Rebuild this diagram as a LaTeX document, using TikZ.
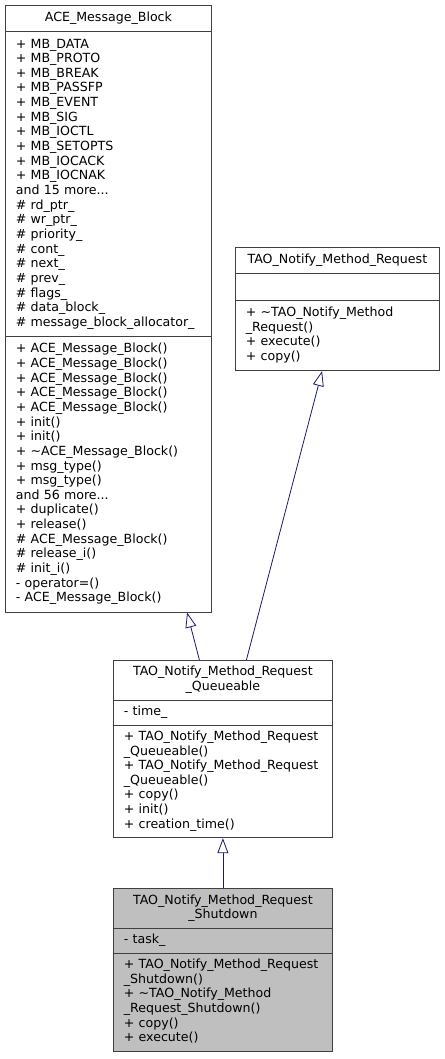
\documentclass[tikz,border=0pt]{standalone}
\usepackage{fontspec}
\setmainfont{DejaVu Sans}
\usepackage{tikz}
\usetikzlibrary{positioning}
\usetikzlibrary{shapes,arrows.meta}
\definecolor{umlblue}{RGB}{25,25,112}
\definecolor{umlgray}{RGB}{64,64,64}
\definecolor{umlfill}{RGB}{191,191,191}
\newcommand{\umlfont}{\fontsize{12.6}{14.65}\selectfont}
\tikzstyle{umlclass}=[rectangle split, rectangle split parts=3, draw=umlgray, line width=0.8pt, fill=white, align=left, inner xsep=10.5pt, inner ysep=5.5pt, font=\umlfont, anchor=north west]
\tikzstyle{inherit}=[draw=umlblue, line width=0.8pt, -{Triangle[open, length=15pt, width=11pt]}]

\begin{document}
\begin{tikzpicture}[x=1pt, y=-1pt]
    \useasboundingbox (0,0) rectangle (444,1059);

    \node[umlclass, text width=185pt] (ace) at (5,5) {\makebox[\linewidth]{\strut ACE\_Message\_Block}
    \nodepart{second}\strut + MB\_DATA\\
    + MB\_PROTO\\
    + MB\_BREAK\\
    + MB\_PASSFP\\
    + MB\_EVENT\\
    + MB\_SIG\\
    + MB\_IOCTL\\
    + MB\_SETOPTS\\
    + MB\_IOCACK\\
    + MB\_IOCNAK\\
    and 15 more...\\
    \# rd\_ptr\_\\
    \# wr\_ptr\_\\
    \# priority\_\\
    \# cont\_\\
    \# next\_\\
    \# prev\_\\
    \# flags\_\\
    \# data\_block\_\\
    \# message\_block\_allocator\_\strut
    \nodepart{third}\strut + ACE\_Message\_Block()\\
    + ACE\_Message\_Block()\\
    + ACE\_Message\_Block()\\
    + ACE\_Message\_Block()\\
    + ACE\_Message\_Block()\\
    + init()\\
    + init()\\
    + \textasciitilde ACE\_Message\_Block()\\
    + msg\_type()\\
    + msg\_type()\\
    and 56 more...\\
    + duplicate()\\
    + release()\\
    \# ACE\_Message\_Block()\\
    \# release\_i()\\
    \# init\_i()\\
    - operator=()\\
    - ACE\_Message\_Block()\strut};

    \node[umlclass, text width=183pt] (req) at (235,247) {\makebox[\linewidth]{\strut TAO\_Notify\_Method\_Request}
    \nodepart{second}\strut
    \nodepart{third}\strut + \textasciitilde TAO\_Notify\_Method\\
    \_Request()\\
    + execute()\\
    + copy()\strut};

    \node[umlclass, inner ysep=4.75pt, text width=198pt] (queue) at (113,660) {\makebox[\linewidth]{\strut TAO\_Notify\_Method\_Request}\\
    \makebox[\linewidth]{\_Queueable\strut}
    \nodepart{second}\strut - time\_
    \nodepart{third}\strut + TAO\_Notify\_Method\_Request\\
    \_Queueable()\\
    + TAO\_Notify\_Method\_Request\\
    \_Queueable()\\
    + copy()\\
    + init()\\
    + creation\_time()\strut};

    \node[umlclass, inner ysep=4.75pt, fill=umlfill, text width=198pt, below=50pt of queue] (shut) {\makebox[\linewidth]{\strut TAO\_Notify\_Method\_Request}\\
    \makebox[\linewidth]{\_Shutdown\strut}
    \nodepart{second}\strut - task\_
    \nodepart{third}\strut + TAO\_Notify\_Method\_Request\\
    \_Shutdown()\\
    + \textasciitilde TAO\_Notify\_Method\\
    \_Request\_Shutdown()\\
    + copy()\\
    + execute()\strut};

    \draw[inherit] ([xshift=-23.5pt]queue.north) -- ([xshift=78.7pt]ace.south);
    \draw[inherit] ([xshift=23.5pt]queue.north) -- ([xshift=-15.3pt]req.south);
    \draw[inherit] (shut.north) -- (queue.south);
\end{tikzpicture}
\end{document}
